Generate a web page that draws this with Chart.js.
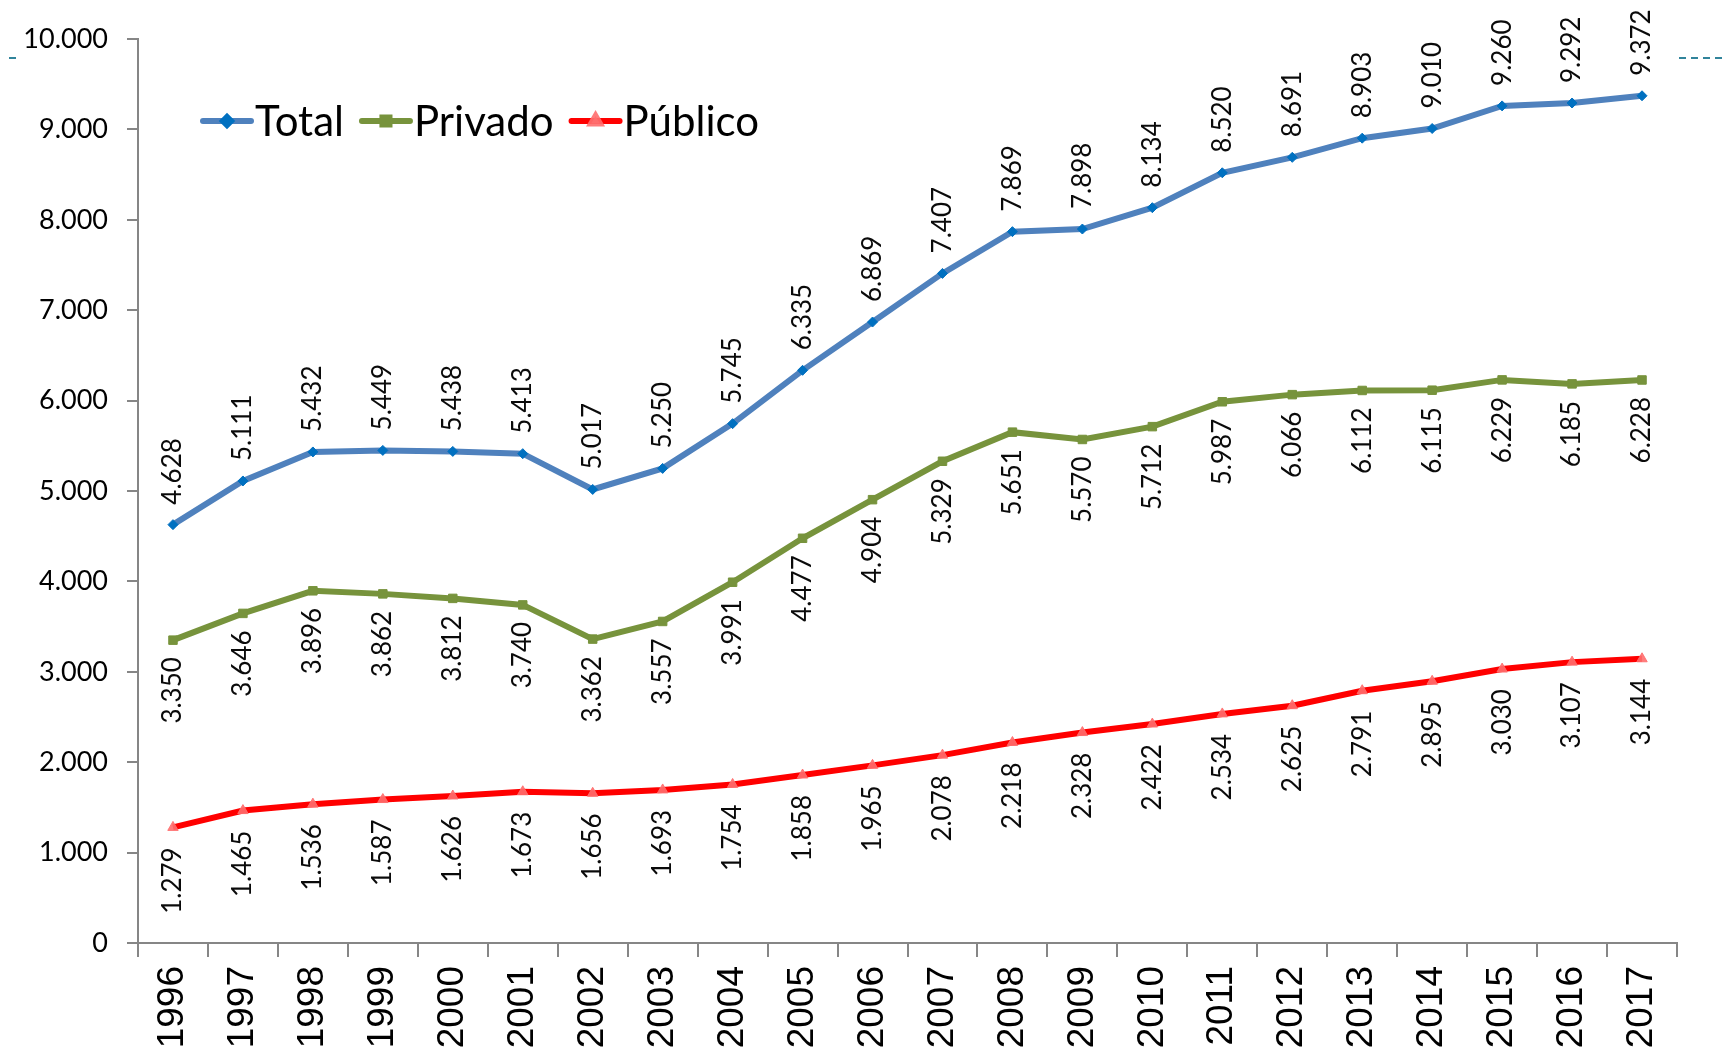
<!DOCTYPE html>
<html>
<head>
<meta charset="utf-8">
<script src="https://cdn.jsdelivr.net/npm/chart.js@4.4.0/dist/chart.umd.min.js"></script>
<style>
  html, body { margin:0; padding:0; background:#fff; }
  #wrap { width:1725px; height:1052px; position:relative; }
</style>
</head>
<body>
<div id="wrap"><canvas id="chart"></canvas></div>
<script>
// ── data ───────────────────────────────────────────
const years = ['1996','1997','1998','1999','2000','2001','2002','2003','2004','2005','2006',
               '2007','2008','2009','2010','2011','2012','2013','2014','2015','2016','2017'];
const total   = [4628,5111,5432,5449,5438,5413,5017,5250,5745,6335,6869,7407,7869,7898,8134,8520,8691,8903,9010,9260,9292,9372];
const privado = [3350,3646,3896,3862,3812,3740,3362,3557,3991,4477,4904,5329,5651,5570,5712,5987,6066,6112,6115,6229,6185,6228];
const publico = [1279,1465,1536,1587,1626,1673,1656,1693,1754,1858,1965,2078,2218,2328,2422,2534,2625,2791,2895,3030,3107,3144];
const seriesNames = ['Total','Privado','Público'];
const yMax = 10000, yStep = 1000;

const AXIS = '#868686';
const fmt = v => String(v).replace(/\B(?=(\d{3})+(?!\d))/g, '.');

// ── rotated value labels ───────────────────────────
const valueLabels = {
  id:'valueLabels',
  afterDatasetsDraw(chart){
    const ctx = chart.ctx;
    ctx.save();
    ctx.font = '26px Lato, sans-serif';
    ctx.fillStyle = '#0a0a0a';
    ctx.textBaseline = 'middle';
    chart.data.datasets.forEach((ds, di) => {
      const meta = chart.getDatasetMeta(di);
      meta.data.forEach((pt, i) => {
        const txt = fmt(ds.data[i]);
        ctx.save();
        ctx.translate(pt.x, pt.y);
        ctx.rotate(-Math.PI/2);
        if (ds.labelPos === 'above') { ctx.textAlign = 'left';  ctx.fillText(txt, ds.labelGap, 0); }
        else                         { ctx.textAlign = 'right'; ctx.fillText(txt, -ds.labelGap, 0); }
        ctx.restore();
      });
    });
    ctx.restore();
  }
};

// ── legend inside plot + decorative dashes ─────────
const insideLegend = {
  id:'insideLegend',
  afterDraw(chart){
    const ctx = chart.ctx;
    ctx.save();
    ctx.font = '42px Lato, sans-serif';
    ctx.textBaseline = 'alphabetic';
    let x = 203;
    const y = 121;
    chart.data.datasets.forEach(ds => {
      ctx.strokeStyle = ds.borderColor;
      ctx.lineWidth = 6;
      ctx.lineCap = 'round';
      ctx.beginPath(); ctx.moveTo(x, y); ctx.lineTo(x+48, y); ctx.stroke();
      ctx.fillStyle = ds.pointBackgroundColor;
      ctx.strokeStyle = ds.pointBackgroundColor;
      Chart.helpers.drawPoint(ctx, {pointStyle:ds.pointStyle, radius:ds.pointRadius-1, rotation:0, borderWidth:1}, x+24, y);
      ctx.fillStyle = '#000';
      ctx.textAlign = 'left';
      ctx.fillText(ds.label, x+52, y+15);
      x += 52 + ctx.measureText(ds.label).width + 18;
    });
    // teal dashes at slide edges
    ctx.strokeStyle = '#31849B';
    ctx.lineWidth = 2;
    ctx.lineCap = 'butt';
    ctx.setLineDash([7,5]);
    ctx.beginPath(); ctx.moveTo(9, 58); ctx.lineTo(17, 58); ctx.stroke();
    ctx.beginPath(); ctx.moveTo(1679, 58); ctx.lineTo(1725, 58); ctx.stroke();
    ctx.restore();
  }
};

new Chart(document.getElementById('chart'), {
  type:'line',
  data:{
    labels: years,
    datasets:[
      {label:seriesNames[0], data:total, borderColor:'#4F81BD', backgroundColor:'#4F81BD',
       pointStyle:'rectRot', pointRadius:5, pointBackgroundColor:'#0070C0', pointBorderColor:'#0070C0', pointBorderWidth:1,
       borderWidth:6, tension:0, fill:false, labelPos:'above', labelGap:20},
      {label:seriesNames[1], data:privado, borderColor:'#77933C', backgroundColor:'#77933C',
       pointStyle:'rect', pointRadius:6, pointBackgroundColor:'#77933C', pointBorderColor:'#77933C', pointBorderWidth:1,
       borderWidth:6, tension:0, fill:false, labelPos:'below', labelGap:17},
      {label:seriesNames[2], data:publico, borderColor:'#FF0000', backgroundColor:'#FF0000',
       pointStyle:'triangle', pointRadius:6, pointBackgroundColor:'rgba(255,110,110,0.9)', pointBorderColor:'rgba(255,110,110,0.9)', pointBorderWidth:1,
       borderWidth:6, tension:0, fill:false, labelPos:'below', labelGap:20}
    ]
  },
  options:{
    responsive:true,
    maintainAspectRatio:false,
    animation:false,
    layout:{padding:{top:39, right:48, left:0, bottom:0}},
    plugins:{legend:{display:false}, tooltip:{enabled:false}},
    scales:{
      x:{
        type:'category',
        offset:true,
        grid:{display:true, drawOnChartArea:false, drawTicks:true, tickLength:14, offset:true, color:AXIS, lineWidth:2},
        border:{color:AXIS, width:2},
        ticks:{minRotation:90, maxRotation:90, autoSkip:false, padding:9, color:'#000',
               font:{family:"'Liberation Sans', Arial, sans-serif", size:37}},
        afterFit(scale){ scale.height = 109; }
      },
      y:{
        min:0, max:yMax,
        grid:{display:true, drawOnChartArea:false, drawTicks:true, tickLength:11, color:AXIS, lineWidth:2},
        border:{color:AXIS, width:2},
        ticks:{stepSize:yStep, padding:19, color:'#000', font:{family:'Lato, sans-serif', size:27},
               callback:v => fmt(v)},
        afterFit(scale){ scale.width = 138; }
      }
    }
  },
  plugins:[valueLabels, insideLegend]
});
</script>
</body>
</html>
